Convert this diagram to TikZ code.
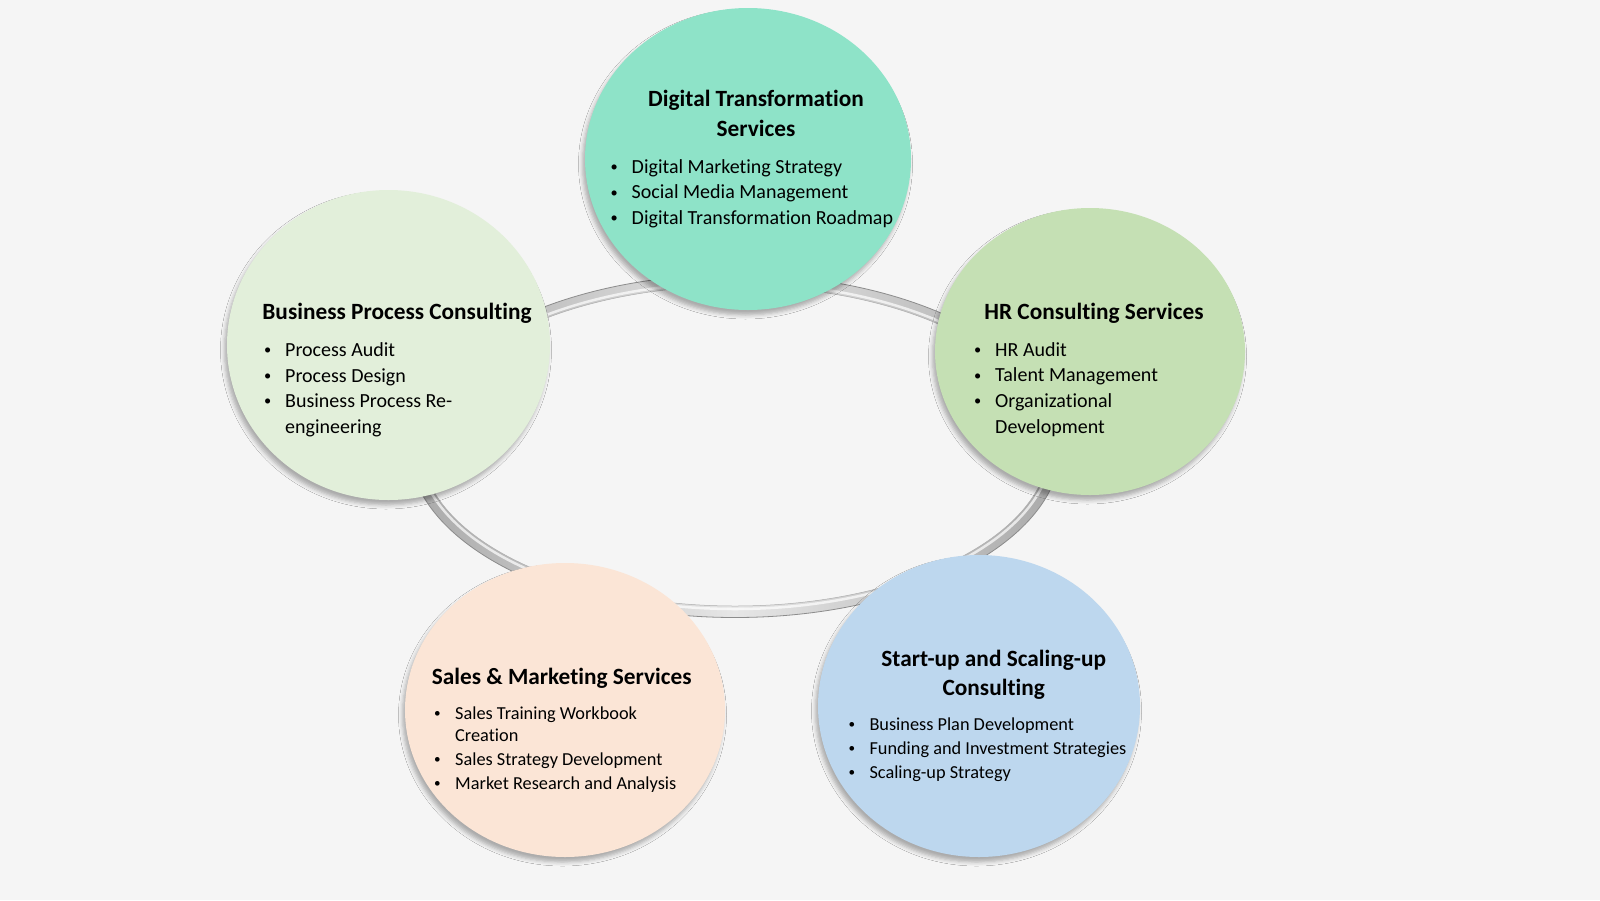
\documentclass[tikz,border=0pt]{standalone}
\usepackage{fontspec}
\usepackage{graphicx}
\setmainfont{Carlito}[Ligatures=NoCommon]
\usetikzlibrary{shapes.geometric,shadows.blur}
\definecolor{bg}{HTML}{F5F5F5}
\definecolor{cdigital}{HTML}{8EE3C8}
\definecolor{cbusiness}{HTML}{E2EFDA}
\definecolor{chr}{HTML}{C5E0B4}
\definecolor{csales}{HTML}{FBE5D6}
\definecolor{cstart}{HTML}{BDD7EE}
\definecolor{ringside}{HTML}{A9A9A9}
\definecolor{ringmid}{HTML}{E6E6E6}
\definecolor{ringedge}{HTML}{8C8C8C}
\newcommand{\bl}[1]{\makebox[19pt][l]{\hspace*{-2pt}\raisebox{0.08em}{\scalebox{0.72}{\textbullet}}}#1}
\begin{document}
\begin{tikzpicture}[x=1pt,y=-1pt,
  bubble/.style={ellipse, inner sep=0pt, draw=none,
    blur shadow={shadow xshift=-2.5pt, shadow yshift=-5pt, shadow blur radius=4pt, shadow opacity=30}},
  ttl/.style={inner sep=0pt, anchor=base, font=\fontsize{23.3}{30}\selectfont\bfseries},
  itm/.style={inner sep=0pt, anchor=base west, font=\fontsize{20}{26}\selectfont},
  itms/.style={inner sep=0pt, anchor=base west, font=\fontsize{18.3}{23}\selectfont}]
\useasboundingbox (0,0) rectangle (1600,900);
\fill[bg] (0,0) rectangle (1600,900);
% ring
\coordinate (rc) at (735,446);
\shade[even odd rule, left color=ringside, right color=ringside, middle color=ringmid]
  (rc) ellipse [x radius=326pt, y radius=171.5pt]
  (rc) ellipse [x radius=314pt, y radius=160pt];
\draw[line width=0.8pt, ringedge] (rc) ellipse [x radius=326pt, y radius=171.5pt];
\draw[line width=0.5pt, ringedge!70] (rc) ellipse [x radius=314pt, y radius=160pt];
\draw[line width=2.5pt, white, opacity=0.7] (rc) ellipse [x radius=317pt, y radius=163pt];
% bubbles
\node[bubble, fill=cdigital, minimum width=326pt, minimum height=302pt] (dig) at (748,159) {};
\node[bubble, fill=cbusiness, minimum width=323pt, minimum height=310pt] (bpc) at (388.5,345) {};
\node[bubble, fill=chr, minimum width=310pt, minimum height=287pt] (hrc) at (1090,351.5) {};
\node[bubble, fill=csales, minimum width=320pt, minimum height=294pt] (sal) at (565,710) {};
\node[bubble, fill=cstart, minimum width=322pt, minimum height=302pt] (stu) at (979,706) {};
% Digital
\node[ttl] (dt1) at (756,106) {Digital Transformation};
\node[ttl] (dt2) at (756,136) {Services};
\node[itm] (di1) at (612.5,173.3) {\bl{Digital Marketing Strategy}};
\node[itm] (di2) at (612.5,198.7) {\bl{Social Media Management}};
\node[itm] (di3) at (612.5,224) {\bl{Digital Transformation Roadmap}};
% Business process
\node[ttl] (bt1) at (397,319.3) {Business Process Consulting};
\node[itm] (bi1) at (266,356) {\bl{Process Audit}};
\node[itm] (bi2) at (266,382) {\bl{Process Design}};
\node[itm] (bi3) at (266,407.3) {\bl{Business Process Re-}};
\node[itm] (bi4) at (285,433.3) {engineering};
% HR
\node[ttl] (ht1) at (1094,319.3) {HR Consulting Services};
\node[itm] (hi1) at (976,356) {\bl{HR Audit}};
\node[itm] (hi2) at (976,381.7) {\bl{Talent Management}};
\node[itm] (hi3) at (976,407.3) {\bl{Organizational}};
\node[itm] (hi4) at (995,433.3) {Development};
% Sales
\node[ttl] (st1) at (561.7,684) {Sales \& Marketing Services};
\node[itms] (si1) at (436,719) {\bl{Sales Training Workbook}};
\node[itms] (si2) at (455,741.7) {Creation};
\node[itms] (si3) at (436,765) {\bl{Sales Strategy Development}};
\node[itms] (si4) at (436,789.3) {\bl{Market Research and Analysis}};
% Start-up
\node[ttl] (ut1) at (993.7,666.7) {Start-up and Scaling-up};
\node[ttl] (ut2) at (993.7,695.7) {Consulting};
\node[itms] (ui1) at (850.3,730) {\bl{Business Plan Development}};
\node[itms] (ui2) at (850.3,754) {\bl{Funding and Investment Strategies}};
\node[itms] (ui3) at (850.3,778.3) {\bl{Scaling-up Strategy}};
\end{tikzpicture}
\end{document}
